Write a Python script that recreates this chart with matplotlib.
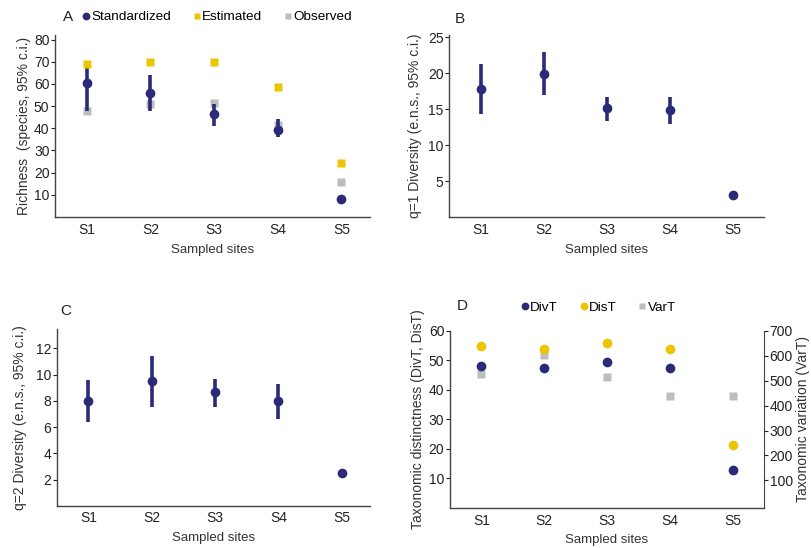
import numpy as np
import matplotlib
matplotlib.use('Agg')
import matplotlib.pyplot as plt

plt.rcParams['font.family'] = ['Liberation Sans', 'DejaVu Sans']

sites = ['S1', 'S2', 'S3', 'S4', 'S5']

# Panel A - richness
std_rich = [60.5, 56, 46.5, 39, 8]
std_rich_lo = [48, 48, 41, 36, 8]
std_rich_hi = [69, 64, 51, 44, 8]
est_rich = [69, 70, 70, 58.5, 24.5]
obs_rich = [48, 51, 51.5, 41.5, 16]

# Panel B - q=1 diversity
q1 = [17.8, 19.9, 15.1, 14.9, 3.0]
q1_lo = [14.3, 17.0, 13.4, 12.9, 3.0]
q1_hi = [21.3, 22.9, 16.7, 16.7, 3.0]

# Panel C - q=2 diversity
q2 = [8.0, 9.5, 8.7, 8.0, 2.5]
q2_lo = [6.4, 7.5, 7.5, 6.6, 2.5]
q2_hi = [9.6, 11.4, 9.7, 9.3, 2.5]

# Panel D - taxonomic indices
divt = [48, 47.5, 49.5, 47.5, 13]
dist = [55, 54, 56, 54, 21.5]
vart = [528, 602, 517, 437, 437]

navy = '#2b2a78'
yellow = '#ecc500'
gray = '#bdbdbd'
spine_col = '#444444'

x = np.arange(1, 6)

fig = plt.figure(figsize=(8.12, 5.48), dpi=100)
axA = fig.add_axes([0.0677, 0.604, 0.388, 0.332])
axB = fig.add_axes([0.553, 0.604, 0.388, 0.332])
axC = fig.add_axes([0.070, 0.077, 0.386, 0.323])
axD = fig.add_axes([0.554, 0.073, 0.387, 0.323])


def style(ax):
    for s in ['top', 'right']:
        ax.spines[s].set_visible(False)
    for s in ['left', 'bottom']:
        ax.spines[s].set_color(spine_col)
        ax.spines[s].set_linewidth(1.0)
    ax.set_xticks(x)
    ax.set_xticklabels(sites)
    ax.tick_params(axis='x', length=0, pad=4, labelsize=10, colors='#222222')
    ax.tick_params(axis='y', length=3, width=0.8, pad=1, labelsize=10, colors='#222222')
    ax.set_xlabel('Sampled sites', fontsize=9.5, color='#333333', labelpad=5)


def err(ax, vals, lo, hi):
    vals = np.array(vals)
    yerr = [vals - np.array(lo), np.array(hi) - vals]
    ax.errorbar(x, vals, yerr=yerr, fmt='none', ecolor=navy, elinewidth=2.6, capsize=0, zorder=3)


# A
style(axA)
err(axA, std_rich, std_rich_lo, std_rich_hi)
axA.plot(x, obs_rich, 's', color=gray, ms=6, mec='none', zorder=2, label='Observed')
axA.plot(x, std_rich, 'o', color=navy, ms=7, mec='none', zorder=4, label='Standardized')
axA.plot(x, est_rich, 's', color=yellow, ms=6, mec='none', zorder=5, label='Estimated')
axA.set_xlim(0.5, 5.45)
axA.set_ylim(0, 82)
axA.set_yticks(np.arange(10, 81, 10))
axA.set_ylabel('Richness  (species, 95% c.i.)', fontsize=10, color='#333333', labelpad=2)
h, l = axA.get_legend_handles_labels()
order = [1, 2, 0]
axA.legend([h[i] for i in order], [l[i] for i in order], ncol=3, frameon=False,
           loc='lower left', bbox_to_anchor=(0.06, 1.02), handlelength=0.6, handletextpad=0.1,
           columnspacing=1.6, fontsize=9.7, markerscale=0.8, borderaxespad=0.2)
fig.text(0.078, 0.962, 'A', fontsize=11, color='#222222')

# B
style(axB)
err(axB, q1, q1_lo, q1_hi)
axB.plot(x, q1, 'o', color=navy, ms=7, mec='none', zorder=4)
axB.set_xlim(0.5, 5.5)
axB.set_ylim(0, 25.3)
axB.set_yticks([5, 10, 15, 20, 25])
axB.set_ylabel('q=1 Diversity (e.n.s., 95% c.i.)', fontsize=10, color='#333333', labelpad=4)
fig.text(0.560, 0.958, 'B', fontsize=11, color='#222222')

# C
style(axC)
err(axC, q2, q2_lo, q2_hi)
axC.plot(x, q2, 'o', color=navy, ms=7, mec='none', zorder=4)
axC.set_xlim(0.5, 5.45)
axC.set_ylim(0, 13.5)
axC.set_yticks([2, 4, 6, 8, 10, 12])
axC.set_ylabel('q=2 Diversity (e.n.s., 95% c.i.)', fontsize=10, color='#333333', labelpad=6)
fig.text(0.074, 0.425, 'C', fontsize=11, color='#222222')

# D
style(axD)
axD2 = axD.twinx()
axD2.spines['top'].set_visible(False)
axD2.spines['left'].set_visible(False)
axD2.spines['bottom'].set_visible(False)
axD2.spines['right'].set_color(spine_col)
pv, = axD2.plot(x, vart, 's', color=gray, ms=6, mec='none', zorder=2)
pd_, = axD.plot(x, divt, 'o', color=navy, ms=7, mec='none', zorder=4)
ps, = axD.plot(x, dist, 'o', color=yellow, ms=7, mec='none', zorder=5)
axD.set_zorder(axD2.get_zorder() + 1)
axD.patch.set_visible(False)
axD.set_xlim(0.5, 5.5)
axD.set_ylim(0, 60)
axD.set_yticks([10, 20, 30, 40, 50, 60])
axD2.set_ylim(-11, 700)
axD2.set_yticks(np.arange(100, 701, 100))
axD2.tick_params(axis='y', length=3, width=0.8, pad=1, labelsize=10, colors='#222222')
axD.set_ylabel('Taxonomic distinctness (DivT, DisT)', fontsize=10, color='#333333', labelpad=3)
axD2.set_ylabel('Taxonomic variation (VarT)', fontsize=10, color='#333333', labelpad=2)
axD.legend([pd_, ps, pv], ['DivT', 'DisT', 'VarT'], ncol=3, frameon=False,
           loc='lower left', bbox_to_anchor=(0.2, 1.05), handlelength=0.6, handletextpad=0.1,
           columnspacing=1.6, fontsize=9.7, markerscale=0.8, borderaxespad=0.2)
fig.text(0.562, 0.435, 'D', fontsize=11, color='#222222')

fig.savefig('out.png', dpi=100)
